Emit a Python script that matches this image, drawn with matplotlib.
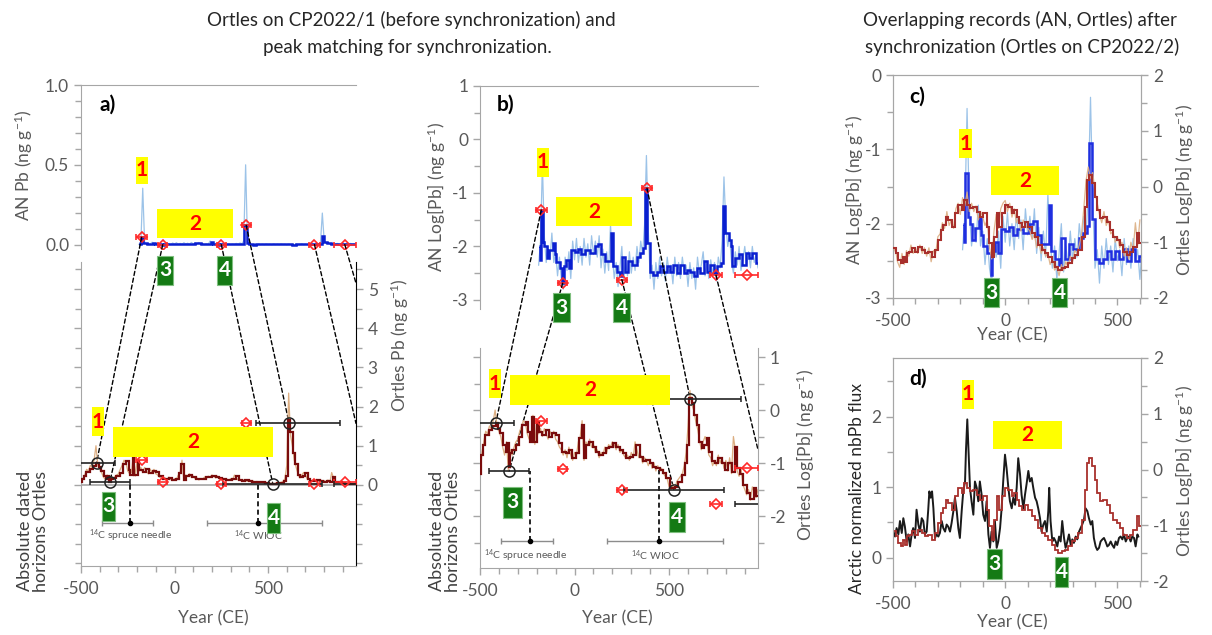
import numpy as np
import matplotlib
matplotlib.use('Agg')
import matplotlib.pyplot as plt
from matplotlib.patches import Rectangle, ConnectionPatch
from matplotlib.ticker import MultipleLocator, FixedLocator, FuncFormatter

plt.rcParams['font.family'] = ['Lato', 'DejaVu Sans']
plt.rcParams['axes.unicode_minus'] = False
plt.rcParams['mathtext.default'] = 'regular'

# ---------------- data ----------------
# AN (Arctic) log10 Pb, step (bin edges in years CE)
an_years = [-190, -182, -177, -168, -159, -147, -133, -115, -106, -97, -79, -65, -58, -44, -30, -17, 0, 18, 36, 54,
            80, 107, 124, 142, 160, 195, 204, 222, 240, 249, 266, 284, 302, 328, 346, 364, 373, 385, 399, 417,
            435, 452, 470, 488, 506, 523, 541, 559, 577, 594, 612, 630, 648, 665, 683, 701, 718, 736, 754, 772,
            786, 798, 816, 825, 834, 851, 869, 887, 905, 922, 940, 958, 972]
an_log = [-2.0, -2.25, -1.32, -1.91, -2.0, -2.22, -2.06, -1.93, -2.15, -2.3,
          -2.4, -2.69, -2.37, -2.25, -2.4, -2.07, -2.1, -2.04, -2.15, -2.07,
          -2.12, -2.0, -1.96, -2.15, -2.28, -1.75, -2.37, -2.47, -2.56, -2.19,
          -2.47, -2.28, -2.34, -2.19, -2.12, -2.03, -0.91, -1.94, -2.47, -2.53,
          -2.47, -2.37, -2.47, -2.37, -2.47, -2.34, -2.5, -2.34, -2.5, -2.44,
          -2.47, -2.56, -2.4, -2.5, -2.28, -2.47, -2.34, -2.5, -2.37, -2.31,
          -1.25, -1.75, -1.88, -2.0, -2.37, -2.22, -2.15, -2.34, -2.12, -2.22,
          -2.12, -2.31]
# AN high resolution (10-yr samples starting -190)
an_fine_start = -190
an_fine_step = 10
an_fine_log = [-2.35, -1.9, -0.45, -1.8, -2.3, -2.0, -2.25, -1.75, -2.3, -2.1,
               -2.55, -2.2, -2.6, -2.8, -2.2, -2.45, -2.1, -2.6, -1.9, -2.25,
               -1.85, -2.3, -2.0, -2.35, -1.85, -2.2, -1.95, -2.35, -1.8, -2.15,
               -1.9, -2.2, -1.8, -2.4, -2.05, -2.5, -2.1, -2.45, -1.6, -2.2,
               -2.6, -2.3, -2.75, -2.4, -2.0, -2.65, -2.3, -2.55, -2.1, -2.5,
               -2.2, -2.45, -2.0, -2.3, -1.9, -2.15, -1.6, -0.3, -1.7, -2.6,
               -2.35, -2.8, -2.3, -2.6, -2.2, -2.55, -2.3, -2.65, -2.2, -2.5,
               -2.35, -2.7, -2.2, -2.55, -2.3, -2.6, -2.2, -2.5, -2.35, -2.75,
               -2.3, -2.6, -2.4, -2.8, -2.2, -2.5, -2.35, -2.1, -2.55, -2.3,
               -2.6, -2.25, -2.5, -2.3, -2.65, -2.2, -2.4, -1.9, -0.7, -1.6,
               -2.0, -1.8, -2.3, -2.5, -2.1, -2.35, -2.0, -2.45, -2.25, -2.0,
               -2.35, -2.1, -2.4, -2.0, -2.3, -2.15, -2.4]

# Ortles log10 Pb on CP2022/1, step
ort1_years = [-502, -495, -484, -472, -454, -436, -418, -406, -392, -378,
              -364, -356, -348, -339, -330, -312, -294, -277, -259, -246,
              -236, -223, -215, -197, -188, -170, -153, -135, -117, -99,
              -82, -64, -46, -28, -11, 7, 25, 37, 48, 60,
              78, 96, 113, 131, 149, 167, 184, 202, 220, 238,
              255, 273, 291, 308, 326, 344, 362, 379, 397, 415,
              433, 450, 468, 486, 503, 530, 548, 566, 583, 597,
              605, 619, 633, 645, 658, 672, 686, 698, 711, 725,
              743, 761, 778, 796, 814, 831, 846, 858, 876, 893,
              911, 929, 947, 961, 973]
ort1_log = [-1.2, -0.85, -0.66, -0.47, -0.38, -0.31, -0.25, -0.35, -0.44, -0.66,
            -0.79, -0.63, -1.07, -0.82, -0.75, -0.66, -0.5, -0.28, -0.22, -0.41,
            -0.6, -0.13, -0.6, -0.22, -0.41, -0.47, -0.38, -0.5, -0.44, -0.47,
            -0.63, -0.79, -0.82, -0.75, -0.91, -0.82, -0.53, -0.28, -0.91, -0.66,
            -0.6, -0.69, -0.79, -0.85, -0.82, -0.72, -0.69, -0.63, -0.69, -0.75,
            -0.82, -0.91, -0.88, -0.85, -0.66, -0.88, -0.97, -0.94, -1.0, -1.07,
            -1.1, -1.13, -1.19, -1.29, -1.48, -1.45, -1.35, -1.23, -1.0, -0.66,
            0.22, 0.13, -0.09, -0.28, -0.6, -0.72, -0.66, -0.53, -0.79, -0.97,
            -1.0, -0.91, -1.0, -1.13, -1.0, -1.16, -0.69, -1.1, -1.2, -1.42,
            -1.57, -1.67, -1.48, -1.63]
ort1_fine_start = -500
ort1_fine_step = 10
ort1_fine_log = [-1.3, -0.8, -0.6, -0.4, -0.45, -0.3, -0.35, -0.2, 0.0, -0.3,
                 -0.4, -0.5, -0.7, -0.85, -0.6, -1.15, -0.75, -0.85, -0.7, -0.6,
                 -0.55, -0.4, -0.3, -0.2, -0.25, -0.45, -0.55, -0.5, -0.1, -0.65,
                 -0.2, -0.45, -0.35, -0.5, -0.35, -0.45, -0.55, -0.4, -0.5, -0.4,
                 -0.55, -0.6, -0.7, -0.75, -0.85, -0.75, -0.9, -0.7, -0.85, -0.95,
                 -0.8, -0.85, -0.6, -0.5, -0.2, -0.95, -0.6, -0.65, -0.55, -0.7,
                 -0.65, -0.8, -0.75, -0.9, -0.8, -0.85, -0.7, -0.8, -0.65, -0.7,
                 -0.6, -0.65, -0.75, -0.65, -0.8, -0.75, -0.85, -0.9, -0.85, -0.95,
                 -0.8, -0.9, -0.6, -0.75, -0.9, -0.85, -1.0, -0.9, -0.95, -1.05,
                 -0.95, -1.1, -1.0, -1.15, -1.05, -1.15, -1.1, -1.2, -1.25, -1.3,
                 -1.45, -1.5, -1.4, -1.5, -1.35, -1.3, -1.25, -1.2, -1.05, -0.8,
                 -0.3, 0.37, 0.1, 0.0, -0.2, -0.35, -0.55, -0.75, -0.6, -0.5,
                 -0.6, -0.85, -0.9, -1.05, -0.95, -1.05, -0.85, -1.0, -0.9, -1.1,
                 -0.95, -1.15, -0.9, -1.2, -0.5, -0.75, -1.15, -1.25, -1.1, -1.4,
                 -1.5, -1.6, -1.5, -1.7, -1.45, -1.55, -1.65, -1.5]

# Ortles log10 Pb on CP2022/2 (synchronized), step
ort2_years = [-499, -487, -476, -466, -457, -447, -436, -427, -417, -402,
              -387, -372, -357, -343, -328, -313, -298, -288, -276, -264,
              -254, -239, -224, -209, -194, -184, -169, -157, -142, -127,
              -112, -98, -83, -71, -60, -50, -38, -26, -16, -1,
              14, 29, 39, 51, 63, 73, 88, 103, 118, 132,
              147, 162, 177, 192, 207, 222, 236, 251, 266, 281,
              296, 311, 326, 340, 355, 366, 375, 385, 400, 410,
              422, 437, 452, 467, 481, 496, 511, 526, 541, 556,
              571, 586, 597, 603]
ort2_log = [-1.11, -1.2, -1.32, -1.38, -1.26, -1.35, -1.2, -1.17, -1.11, -1.17,
            -1.08, -1.14, -1.2, -1.17, -1.26, -1.14, -0.96, -0.78, -0.69, -0.54,
            -0.6, -0.72, -0.48, -0.33, -0.42, -0.24, -0.33, -0.39, -0.36, -0.45,
            -0.54, -0.48, -0.72, -1.02, -1.26, -0.9, -0.48, -0.72, -0.48, -0.33,
            -0.36, -0.48, -0.42, -0.54, -0.66, -0.72, -0.63, -0.72, -0.84, -0.9,
            -1.05, -1.14, -1.2, -1.26, -1.35, -1.44, -1.5, -1.47, -1.44, -1.38,
            -1.29, -1.23, -1.14, -0.9, -0.36, 0.12, 0.21, 0.06, -0.18, -0.42,
            -0.57, -0.54, -0.63, -0.78, -0.9, -0.96, -1.05, -1.17, -1.23, -1.17,
            -1.08, -0.84, -1.02]
ort2_fine_start = -500
ort2_fine_step = 10
ort2_fine_log = [-1.2, -1.1, -1.35, -1.45, -1.2, -1.4, -1.15, -1.25, -1.05, -1.2,
                 -1.1, -1.2, -1.05, -1.2, -1.1, -1.25, -1.1, -1.35, -1.15, -1.2,
                 -0.9, -0.85, -0.65, -0.75, -0.45, -0.7, -0.6, -0.75, -0.4, -0.3,
                 -0.5, -0.2, -0.35, -0.1, -0.45, -0.3, -0.45, -0.35, -0.6, -0.45,
                 -0.55, -0.7, -0.6, -1.1, -1.3, -0.8, -0.5, -0.75, -0.4, -0.3,
                 -0.25, -0.45, -0.3, -0.55, -0.4, -0.65, -0.55, -0.8, -0.6, -0.7,
                 -0.75, -0.8, -0.95, -0.85, -1.1, -1.0, -1.2, -1.1, -1.25, -1.2,
                 -1.4, -1.3, -1.5, -1.45, -1.6, -1.4, -1.5, -1.35, -1.45, -1.25,
                 -1.35, -1.15, -1.2, -1.05, -0.85, -0.4, 0.1, 0.35, 0.15, 0.25,
                 -0.1, -0.3, -0.5, -0.65, -0.45, -0.7, -0.6, -0.85, -0.8, -1.0,
                 -0.9, -1.1, -1.0, -1.25, -1.1, -1.3, -1.0, -1.15, -0.65, -1.05,
                 -0.6]

# Arctic normalized nbPb flux
flux_years = [-499, -491, -484, -476, -469, -461, -454, -447, -439, -432,
              -424, -417, -410, -402, -395, -387, -380, -372, -365, -358,
              -350, -343, -338, -332, -326, -320, -313, -306, -298, -291,
              -283, -276, -268, -261, -254, -246, -239, -231, -224, -216,
              -209, -202, -194, -187, -179, -175, -169, -163, -157, -150,
              -142, -135, -127, -120, -113, -105, -98, -90, -83, -75,
              -68, -61, -53, -46, -38, -31, -23, -16, -9, -1,
              6, 14, 21, 29, 36, 44, 51, 58, 66, 73,
              81, 88, 95, 103, 110, 118, 125, 133, 140, 147,
              155, 162, 170, 177, 185, 192, 196, 202, 210, 217,
              225, 232, 240, 247, 254, 262, 269, 277, 284, 292,
              299, 306, 314, 321, 329, 336, 343, 351, 358, 366,
              373, 381, 388, 395, 403, 410, 418, 425, 433, 440,
              447, 455, 462, 470, 477, 485, 492, 499, 507, 514,
              522, 529, 537, 544, 551, 559, 566, 574, 581, 589, 593]
flux_values = [0.37, 0.30, 0.42, 0.33, 0.52, 0.35, 0.56, 0.44, 0.23, 0.33,
               0.16, 0.33, 0.42, 0.28, 0.68, 0.47, 0.37, 0.56, 0.52, 0.33,
               0.37, 0.68, 0.94, 0.85, 0.94, 0.70, 0.28, 0.33, 0.30, 0.35,
               0.52, 0.42, 0.37, 0.47, 0.44, 0.37, 0.49, 0.66, 0.85, 0.66,
               0.42, 0.28, 0.66, 0.94, 1.08, 1.51, 1.96, 1.46, 0.99, 0.80,
               0.61, 1.08, 0.99, 0.80, 1.08, 0.89, 0.61, 0.52, 0.80, 0.33,
               0.14, 0.37, 0.23, 0.52, 0.14, 0.23, 0.42, 0.70, 1.08, 1.46,
               1.27, 0.99, 0.80, 0.70, 0.85, 0.75, 0.99, 1.41, 1.18, 0.89,
               0.70, 0.89, 1.04, 1.23, 1.08, 1.13, 0.99, 0.85, 0.80, 0.70,
               0.56, 0.37, 0.47, 0.52, 0.37, 0.66, 0.99, 0.52, 0.23, 0.28,
               0.23, 0.16, 0.30, 0.23, 0.52, 0.28, 0.14, 0.23, 0.33, 0.18,
               0.26, 0.21, 0.30, 0.26, 0.37, 0.42, 0.47, 0.54, 0.70, 0.66,
               0.56, 0.47, 0.52, 0.28, 0.16, 0.11, 0.14, 0.23, 0.26, 0.28,
               0.23, 0.16, 0.18, 0.23, 0.18, 0.14, 0.23, 0.18, 0.28, 0.30,
               0.26, 0.33, 0.23, 0.28, 0.30, 0.23, 0.30, 0.28, 0.16, 0.33, 0.30]

# AN tie points (red diamonds), CP2022/1 years
an_tie_years = [-176, -63, 250, 383, 748, 910]
an_tie_log = [-1.32, -2.69, -2.62, -0.91, -2.54, -2.54]
an_tie_xerr = [30, 25, 25, 25, 30, 60]
an_tie_on_ortles_log = [-0.2, -1.12, -1.5, 0.2, -1.78, -1.1]
# Ortles tie horizons (black circles)
ort_tie_years = [-417, -346, 525, 612, 1010]
ort_tie_log = [-0.25, -1.15, -1.5, 0.2, -1.78]
ort_tie_err_lo = [98, 107, 265, 175, 160]
ort_tie_err_hi = [98, 107, 265, 270, 160]
# absolute 14C dated horizons
c14_years = [-236, 447]
c14_lo = [-390, 172]
c14_hi = [-116, 786]
c14_labels = ['$^{14}$C spruce needle', '$^{14}$C WIOC']

# ---------------- style ----------------
W, H = 1212, 635
fig = plt.figure(figsize=(W / 100, H / 100), dpi=100)
GRAY = '#a6a6a6'
TXT = '#595959'
DB = '#0a1fd0'
LB = '#9cc3e8'
DR = '#7a0c0c'
LBR = '#dcae82'
RED = '#ff2a2a'
CRED = '#a8302c'
XLIM = (-500, 970)


def ax_at(x0, y0, x1, y1):
    return fig.add_axes([x0 / W, 1 - y1 / H, (x1 - x0) / W, (y1 - y0) / H])


def style(ax, sides):
    for s in ['left', 'right', 'top', 'bottom']:
        ax.spines[s].set_visible(s in sides)
        ax.spines[s].set_color(GRAY)
    ax.set_facecolor('none')
    ax.tick_params(which='both', colors=GRAY, labelcolor=TXT, labelsize=12.5, direction='out', width=1)
    ax.tick_params(which='major', length=5)
    ax.tick_params(which='minor', length=4)


def yearaxis(ax):
    ax.xaxis.set_major_locator(FixedLocator([-500, 0, 500]))
    ax.xaxis.set_minor_locator(MultipleLocator(100))
    ax.tick_params(axis='x', pad=6)


def fig_text(x, y, s, **kw):
    fig.text(x / W, 1 - y / H, s, **kw)


def tag(x0, y0, x1, y1, s, kind):
    face = '#ffff00' if kind == 'y' else '#147a14'
    tc = '#ff0000' if kind == 'y' else 'white'
    ec = 'none' if kind == 'y' else '#7fbf7f'
    fig.add_artist(Rectangle((x0 / W, 1 - y1 / H), (x1 - x0) / W, (y1 - y0) / H,
                             transform=fig.transFigure, facecolor=face, edgecolor=ec, lw=0.8, zorder=5))
    fig.text((x0 + x1) / 2 / W, 1 - (y0 + y1) / 2 / H, s, ha='center', va='center',
             color=tc, fontsize=15, fontweight='bold', zorder=6)


def connect(axA, xyA, axB, xyB):
    con = ConnectionPatch(xyA=xyA, coordsA='data', axesA=axA, xyB=xyB, coordsB='data', axesB=axB,
                          linestyle=(0, (3, 2)), color='k', lw=1.0, zorder=1.5)
    axB.add_artist(con)
    con.set_clip_on(False)


an_fine_years = an_fine_start + an_fine_step * np.arange(len(an_fine_log))
ort1_fine_years = ort1_fine_start + ort1_fine_step * np.arange(len(ort1_fine_log))
ort2_fine_years = ort2_fine_start + ort2_fine_step * np.arange(len(ort2_fine_log))
an_log_a = np.array(an_log)
an_fine_a = np.array(an_fine_log)
ort1_a = np.array(ort1_log)
ort1_fine_a = np.array(ort1_fine_log)

# ================= panel a =================
a_top = ax_at(81, 85, 356, 249)
style(a_top, ['left', 'top'])
a_top.set_xlim(*XLIM)
a_top.set_ylim(-0.025, 1.0)
a_top.set_xticks([])
a_top.yaxis.set_major_locator(FixedLocator([0, 0.5, 1.0]))
a_top.yaxis.set_minor_locator(MultipleLocator(0.1))
a_top.yaxis.set_major_formatter(FuncFormatter(lambda v, p: f'{v:.1f}'))
a_top.plot(an_fine_years, 10 ** an_fine_a, color=LB, lw=0.9, zorder=2)
a_top.stairs(10 ** an_log_a, an_years, color=DB, lw=1.8, baseline=None, zorder=3)
a_top.errorbar(an_tie_years, 10 ** np.array(an_tie_log), xerr=an_tie_xerr, fmt='D', mfc='none',
               mec=RED, ecolor=RED, ms=5.5, mew=1.2, capsize=2, elinewidth=1.2, zorder=4)

a_bot = ax_at(81, 262, 356, 566)
style(a_bot, ['left', 'right', 'bottom'])
a_bot.spines['right'].set_color('black')
a_bot.set_xlim(*XLIM)
a_bot.set_ylim(-2.07, 5.69)
yearaxis(a_bot)
a_bot.yaxis.set_major_locator(FixedLocator([0, 1, 2, 3, 4, 5]))
a_bot.yaxis.set_minor_locator(MultipleLocator(0.5))
a_bot.tick_params(axis='y', which='both', left=True, right=True, labelleft=False, labelright=True)
a_bot.axhline(0, color=GRAY, lw=1.2, zorder=1)
a_bot.plot(ort1_fine_years, 10 ** ort1_fine_a, color=LBR, lw=0.9, zorder=2)
a_bot.stairs(10 ** ort1_a, ort1_years, color=DR, lw=1.6, baseline=None, zorder=3)
a_bot.errorbar(an_tie_years, 10 ** np.array(an_tie_on_ortles_log), xerr=an_tie_xerr, fmt='D', mfc='none',
               mec=RED, ecolor=RED, ms=5.5, mew=1.2, capsize=2, elinewidth=1.2, zorder=4)
a_bot.errorbar(ort_tie_years, 10 ** np.array(ort_tie_log), xerr=[ort_tie_err_lo, ort_tie_err_hi], fmt='o',
               mfc='none', mec='#222222', ecolor='#222222', ms=8, mew=1.1, capsize=2.5, elinewidth=1.2, zorder=4)
a_bot.vlines(c14_years, -0.96, 0, colors='k', linestyles=(0, (3, 2)), lw=1.2, zorder=2)
a_bot.errorbar(c14_years, [-0.96, -0.96], xerr=[np.subtract(c14_years, c14_lo), np.subtract(c14_hi, c14_years)],
               fmt='o', ms=3, color='k', ecolor='#8c8c8c', elinewidth=1, capsize=2.5, zorder=3)
for x, s in zip(c14_years, c14_labels):
    a_bot.text(x, -1.3, s, ha='center', va='center', fontsize=7.5, color='#595959')

for i in range(4):
    connect(a_top, (an_tie_years[i], 10 ** an_tie_log[i]), a_bot, (ort_tie_years[i], 10 ** ort_tie_log[i]))
connect(a_top, (an_tie_years[4], 10 ** an_tie_log[4]), a_bot, (XLIM[1], 1.57))
connect(a_top, (an_tie_years[5], 10 ** an_tie_log[5]), a_bot, (XLIM[1], 5.15))

# ================= panel b =================
b_top = ax_at(480, 86, 758, 309)
style(b_top, ['left', 'top'])
b_top.set_xlim(*XLIM)
b_top.set_ylim(-3.17, 1)
b_top.set_xticks([])
b_top.yaxis.set_major_locator(FixedLocator([1, 0, -1, -2, -3]))
b_top.yaxis.set_minor_locator(MultipleLocator(0.5))
b_top.plot(an_fine_years, an_fine_a, color=LB, lw=0.9, zorder=2)
b_top.stairs(an_log_a, an_years, color=DB, lw=1.8, baseline=None, zorder=3)
b_top.errorbar(an_tie_years, an_tie_log, xerr=an_tie_xerr, fmt='D', mfc='none',
               mec=RED, ecolor=RED, ms=5.5, mew=1.2, capsize=2, elinewidth=1.2, zorder=4)

b_bot = ax_at(480, 348, 758, 568)
style(b_bot, ['left', 'right', 'bottom'])
b_bot.set_xlim(*XLIM)
b_bot.set_ylim(-2.98, 1.17)
yearaxis(b_bot)
b_bot.yaxis.set_major_locator(FixedLocator([1, 0, -1, -2]))
b_bot.yaxis.set_minor_locator(MultipleLocator(0.5))
b_bot.tick_params(axis='y', which='both', left=True, right=True, labelleft=False, labelright=True)
b_bot.plot(ort1_fine_years, ort1_fine_a, color=LBR, lw=0.9, zorder=2)
b_bot.stairs(ort1_a, ort1_years, color=DR, lw=1.6, baseline=None, zorder=3)
b_bot.errorbar(an_tie_years, an_tie_on_ortles_log, xerr=an_tie_xerr, fmt='D', mfc='none',
               mec=RED, ecolor=RED, ms=5.5, mew=1.2, capsize=2, elinewidth=1.2, zorder=4)
b_bot.errorbar(ort_tie_years, ort_tie_log, xerr=[ort_tie_err_lo, ort_tie_err_hi], fmt='o',
               mfc='none', mec='#222222', ecolor='#222222', ms=8, mew=1.1, capsize=2.5, elinewidth=1.2, zorder=4)
b_bot.vlines(c14_years, -2.47, [-1.15, -1.13], colors='k', linestyles=(0, (3, 2)), lw=1.2, zorder=2)
b_bot.errorbar(c14_years, [-2.47, -2.47], xerr=[np.subtract(c14_years, c14_lo), np.subtract(c14_hi, c14_years)],
               fmt='o', ms=3, color='k', ecolor='#8c8c8c', elinewidth=1, capsize=2.5, zorder=3)
for x, s in zip(c14_years, c14_labels):
    b_bot.text(x - 20, -2.74, s, ha='center', va='center', fontsize=7.5, color='#595959')

for i in range(4):
    connect(b_top, (an_tie_years[i], an_tie_log[i]), b_bot, (ort_tie_years[i], ort_tie_log[i]))
connect(b_top, (an_tie_years[4], an_tie_log[4]), b_bot, (XLIM[1], -0.75))
connect(b_top, (an_tie_years[5], an_tie_log[5]), b_top, (XLIM[1], -3.25))

# ================= panel c =================
c_an = ax_at(893, 75, 1141, 298)
style(c_an, ['left', 'right', 'top', 'bottom'])
c_an.set_xlim(-500, 605)
c_an.set_ylim(-3, 0)
yearaxis(c_an)
c_an.yaxis.set_major_locator(FixedLocator([0, -1, -2, -3]))
c_an.yaxis.set_minor_locator(MultipleLocator(0.5))
c_an.plot(an_fine_years, an_fine_a, color=LB, lw=0.9, zorder=2)
c_an.stairs(an_log_a, an_years, color='#1f2fe0', lw=1.8, baseline=None, zorder=3)
c_or = c_an.twinx()
style(c_or, ['left', 'right', 'top', 'bottom'])
c_or.set_ylim(-2, 2)
c_or.yaxis.set_major_locator(FixedLocator([2, 1, 0, -1, -2]))
c_or.yaxis.set_minor_locator(MultipleLocator(0.5))
c_or.plot(ort2_fine_years, ort2_fine_log, color=LBR, lw=0.9, alpha=0.9, zorder=2)
c_or.stairs(ort2_log, ort2_years, color=CRED, lw=1.5, baseline=None, zorder=3)

# ================= panel d =================
d_fx = ax_at(893, 358, 1141, 581)
style(d_fx, ['left', 'right', 'top', 'bottom'])
d_fx.set_xlim(-500, 605)
d_fx.set_ylim(-0.33, 2.83)
yearaxis(d_fx)
d_fx.yaxis.set_major_locator(FixedLocator([0, 1, 2]))
d_fx.yaxis.set_minor_locator(MultipleLocator(0.5))
d_fx.plot(flux_years, flux_values, color='#1a1a1a', lw=1.4, zorder=3)
d_or = d_fx.twinx()
style(d_or, ['left', 'right', 'top', 'bottom'])
d_or.set_ylim(-2, 2)
d_or.yaxis.set_major_locator(FixedLocator([2, 1, 0, -1, -2]))
d_or.yaxis.set_minor_locator(MultipleLocator(0.5))
d_or.stairs(ort2_log, ort2_years, color=CRED, lw=1.3, baseline=None, zorder=2)

# ================= texts =================
tkw = dict(ha='center', va='center', fontsize=13.5, color='#262626')
fig_text(411, 20, 'Ortles on CP2022/1 (before synchronization) and', **tkw)
fig_text(407, 47, 'peak matching for synchronization.', **tkw)
fig_text(1020, 20, 'Overlapping records (AN, Ortles) after', **tkw)
fig_text(1022, 47, 'synchronization (Ortles on CP2022/2)', **tkw)

lkw = dict(ha='center', va='center', fontsize=12.5, color=TXT, rotation=90)
fig_text(24, 165, 'AN Pb (ng g$^{-1}$)', **lkw)
fig_text(400, 345, 'Ortles Pb (ng g$^{-1}$)', **lkw)
fig_text(437, 197, 'AN Log[Pb] (ng g$^{-1}$)', **lkw)
fig_text(806, 455, 'Ortles Log[Pb] (ng g$^{-1}$)', **lkw)
fig_text(855, 190, 'AN Log[Pb] (ng g$^{-1}$)', **lkw)
fig_text(1185, 190, 'Ortles Log[Pb] (ng g$^{-1}$)', **lkw)
fig_text(1185, 471, 'Ortles Log[Pb] (ng g$^{-1}$)', **lkw)
fig_text(857, 489, 'Arctic normalized nbPb flux', ha='center', va='center', fontsize=12.5,
         color='#262626', rotation=90)
for x in (33, 445):
    fig_text(x, 531, 'Absolute dated\nhorizons Ortles', ha='center', va='center', fontsize=13,
             color='#404040', rotation=90, multialignment='center', linespacing=1.0)

xkw = dict(ha='center', va='center', fontsize=12.5, color=TXT)
fig_text(213, 618, 'Year (CE)', **xkw)
fig_text(617, 618, 'Year (CE)', **xkw)
fig_text(1012, 335, 'Year (CE)', **xkw)
fig_text(1012, 622, 'Year (CE)', **xkw)

pkw = dict(ha='left', va='center', fontsize=15, fontweight='bold', color='black')
fig_text(99, 105, 'a)', **pkw)
fig_text(497, 105, 'b)', **pkw)
fig_text(909, 97, 'c)', **pkw)
fig_text(909, 379, 'd)', **pkw)

tags = [
    ('1', 136, 157, 148, 184, 'y'), ('2', 157, 209, 233, 238, 'y'), ('3', 157, 256, 173, 285, 'g'), ('4', 217, 256, 232, 285, 'g'),
    ('1', 92, 407, 104, 436, 'y'), ('2', 113, 427, 273, 457, 'y'), ('3', 102, 492, 115, 521, 'g'), ('4', 267, 503, 280, 533, 'g'),
    ('1', 537, 148, 549, 177, 'y'), ('2', 556, 197, 632, 226, 'y'), ('3', 553, 293, 570, 322, 'g'), ('4', 613, 293, 630, 322, 'g'),
    ('1', 489, 369, 501, 398, 'y'), ('2', 510, 375, 670, 405, 'y'), ('3', 503, 487, 522, 518, 'g'), ('4', 669, 502, 685, 532, 'g'),
    ('1', 959, 129, 972, 158, 'y'), ('2', 991, 166, 1059, 195, 'y'), ('3', 984, 278, 999, 307, 'g'), ('4', 1052, 278, 1067, 307, 'g'),
    ('1', 962, 380, 974, 409, 'y'), ('2', 993, 421, 1062, 449, 'y'), ('3', 987, 549, 1002, 579, 'g'), ('4', 1055, 557, 1068, 587, 'g'),
]
for s, x0, y0, x1, y1, k in tags:
    tag(x0, y0, x1, y1, s, k)

fig.savefig('out.png', dpi=100)
